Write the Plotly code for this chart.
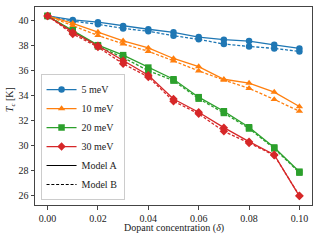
import plotly.graph_objects as go

delta = [0.00, 0.01, 0.02, 0.03, 0.04, 0.05, 0.06, 0.07, 0.08, 0.09, 0.10]

labels = ["5 meV", "10 meV", "20 meV", "30 meV"]
colors = ["#1f77b4", "#ff7f0e", "#2ca02c", "#d62728"]
symbols = ["circle", "triangle-up", "square", "diamond"]

model_a = [
    [40.40, 40.08, 39.90, 39.60, 39.33, 39.08, 38.70, 38.49, 38.38, 38.08, 37.79],
    [40.40, 39.81, 39.10, 38.40, 37.83, 36.98, 36.33, 35.31, 35.00, 34.28, 33.12],
    [40.40, 39.25, 38.05, 37.25, 36.25, 35.31, 33.87, 32.74, 31.45, 29.83, 27.88],
    [40.40, 39.10, 38.00, 36.79, 35.63, 33.72, 32.66, 31.42, 30.29, 29.24, 25.92],
]
model_b = [
    [40.40, 39.98, 39.73, 39.40, 39.17, 38.81, 38.52, 38.14, 37.95, 37.79, 37.55],
    [40.40, 39.62, 38.83, 38.15, 37.56, 36.79, 35.98, 35.25, 34.58, 33.69, 32.74],
    [40.40, 39.15, 37.95, 37.06, 36.00, 35.20, 33.75, 32.60, 31.35, 29.75, 27.80],
    [40.40, 38.95, 37.90, 36.55, 35.50, 33.55, 32.53, 31.12, 30.19, 29.20, 25.95],
]

y_ticks = [26, 28, 30, 32, 34, 36, 38, 40]
x_ticks = [0.00, 0.02, 0.04, 0.06, 0.08, 0.10]
x_title = "Dopant concentration (<i>δ</i>)"
y_title = "<i>T</i><sub><i>c</i></sub> [K]"

DASH = "3px,1.8px"

fig = go.Figure()
for i in range(4):
    fig.add_trace(go.Scatter(
        x=delta, y=model_a[i], mode="lines+markers", name=labels[i],
        line=dict(color=colors[i], width=1.3, dash="solid"),
        marker=dict(symbol=symbols[i], size=6.5, color=colors[i]),
        legendgroup=labels[i], showlegend=True))
    fig.add_trace(go.Scatter(
        x=delta, y=model_b[i], mode="lines+markers", name=labels[i] + " B",
        line=dict(color=colors[i], width=1.3, dash=DASH),
        marker=dict(symbol=symbols[i], size=6.5, color=colors[i]),
        legendgroup=labels[i], showlegend=False))

fig.add_trace(go.Scatter(x=[None], y=[None], mode="lines", name="Model A",
                         line=dict(color="black", width=1.1, dash="solid")))
fig.add_trace(go.Scatter(x=[None], y=[None], mode="lines", name="Model B",
                         line=dict(color="black", width=1.1, dash=DASH)))

axis_common = dict(showline=True, mirror=True, linecolor="#444", linewidth=1,
                   ticks="outside", ticklen=3.5, tickcolor="#444", showgrid=False,
                   zeroline=False, tickfont=dict(size=10, color="#222"))

fig.update_layout(
    width=320, height=240,
    margin=dict(l=35, r=8, t=7, b=35, autoexpand=False),
    paper_bgcolor="white", plot_bgcolor="white",
    font=dict(family="Liberation Serif, DejaVu Serif, serif", size=10, color="#222"),
    xaxis=dict(range=[-0.005, 0.105], tickvals=x_ticks, tickformat=".2f", **axis_common),
    yaxis=dict(range=[25.2, 41.12], tickvals=y_ticks, **axis_common),
    legend=dict(x=0.02, y=0.025, xanchor="left", yanchor="bottom",
                bgcolor="rgba(255,255,255,0.8)", bordercolor="#ccc", borderwidth=1,
                font=dict(size=10), tracegroupgap=0, itemwidth=30),
    annotations=[
        dict(text=x_title, xref="paper", yref="paper", x=0.5, y=-0.116,
             xanchor="center", yanchor="middle", showarrow=False, font=dict(size=10)),
        dict(text=y_title, xref="paper", yref="paper", x=-0.09, y=0.53,
             xanchor="center", yanchor="middle", showarrow=False, textangle=-90,
             font=dict(size=10)),
    ],
)

fig.write_html("out.html", config={"displayModeBar": False},
               post_script="document.body.style.margin='0';document.body.style.padding='0';")
